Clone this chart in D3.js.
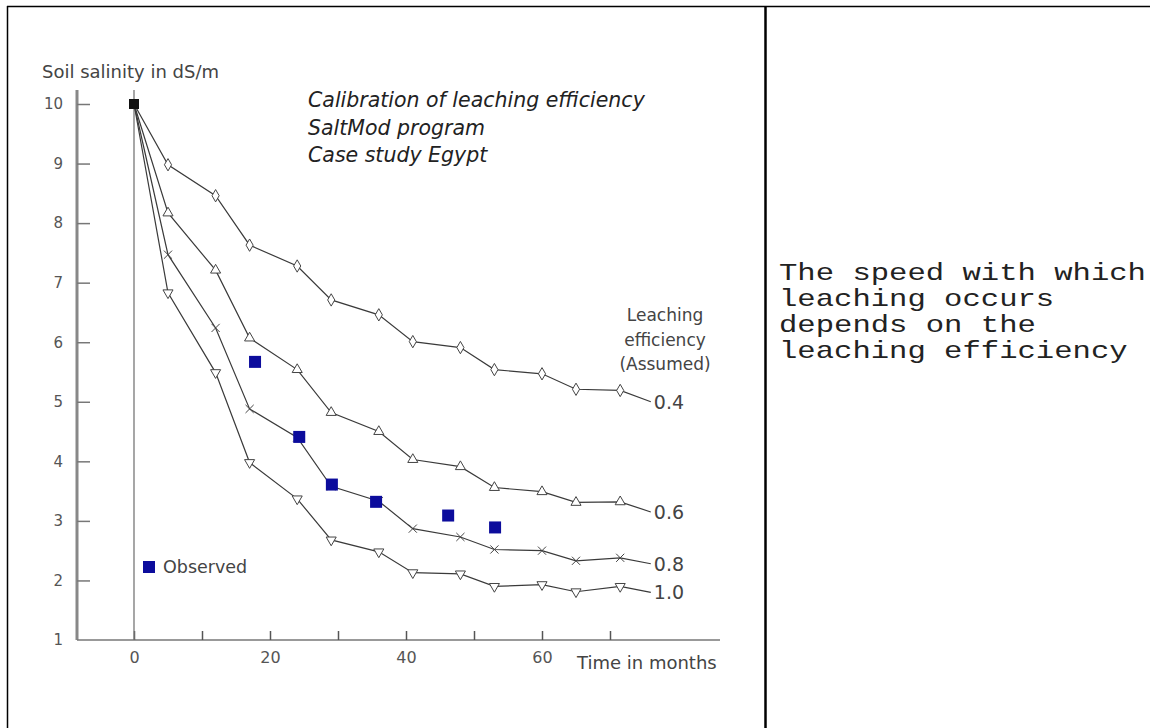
<!DOCTYPE html>
<meta charset="utf-8">
<style>
    body { margin: 0; background: #fff; }
    svg text { font-family: "DejaVu Sans", Verdana, sans-serif; fill: #333; }
    .note { font-family: "Liberation Mono", "Courier New", monospace !important; fill: #222 !important; }
</style>

<body>
    <script src="https://cdn.jsdelivr.net/npm/d3@7"></script>
    <script>
        // time in months for every simulated point
        var months = [0, 5, 12, 17, 24, 29, 36, 41, 48, 53, 60, 65, 71.5]
        // simulated soil salinity (dS/m) for each assumed leaching efficiency
        var le04 = [10, 8.98, 8.46, 7.63, 7.28, 6.71, 6.46, 6.01, 5.91, 5.54, 5.47, 5.21, 5.19]
        var le06 = [10, 8.17, 7.21, 6.07, 5.54, 4.82, 4.50, 4.03, 3.91, 3.56, 3.49, 3.31, 3.32]
        var le08 = [10, 7.47, 6.24, 4.88, 4.40, 3.58, 3.33, 2.87, 2.73, 2.52, 2.50, 2.33, 2.38]
        var le10 = [10, 6.83, 5.49, 3.98, 3.37, 2.68, 2.48, 2.13, 2.11, 1.90, 1.93, 1.81, 1.90]
        var seriesNames = ["0.4", "0.6", "0.8", "1.0"]
        // where the leader line of each curve meets its label
        var labelMonth = 76
        var labelValues = [5.0, 3.15, 2.28, 1.80]

        // observed salinity
        var obsMonths = [17.8, 24.3, 29.1, 35.6, 46.2, 53.1]
        var obsValues = [5.67, 4.41, 3.61, 3.32, 3.09, 2.89]

        var yTicks = [1, 2, 3, 4, 5, 6, 7, 8, 9, 10]
        var xTickMarks = [0, 10, 20, 30, 40, 50, 60, 70]
        var xTickLabels = [0, 20, 40, 60]
        var titleLines = ["Calibration of leaching efficiency", "SaltMod program", "Case study Egypt"]
        var noteLines = ["The speed with which", "leaching occurs", "depends on the", "leaching efficiency"]

        var width = 1150,
            height = 728

        var svg = d3.select("body").append("svg")
            .attr("width", width)
            .attr("height", height)

        // table frame
        svg.append("line").attr("x1", 7).attr("x2", width).attr("y1", 6.5).attr("y2", 6.5)
            .attr("stroke", "#000").attr("stroke-width", 1.5)
        svg.append("line").attr("x1", 7.5).attr("x2", 7.5).attr("y1", 6).attr("y2", height)
            .attr("stroke", "#000").attr("stroke-width", 1.5)
        svg.append("line").attr("x1", 765.5).attr("x2", 765.5).attr("y1", 6).attr("y2", height)
            .attr("stroke", "#000").attr("stroke-width", 2.5)

        var x = d3.scaleLinear().domain([0, 60]).range([134, 542])
        var y = d3.scaleLinear().domain([1, 10]).range([640, 104])

        var axisX = 77

        // y axis
        svg.append("line").attr("x1", axisX).attr("x2", axisX).attr("y1", 90).attr("y2", y(1))
            .attr("stroke", "#888").attr("stroke-width", 3)
        var yMarks = svg.append("g")
            .attr("transform", "translate(" + axisX + ",0)")
            .call(d3.axisRight(y).tickValues(yTicks.slice(1)).tickSize(13).tickFormat(""))
        yMarks.select(".domain").remove()
        yMarks.selectAll("line").attr("stroke", "#777").attr("stroke-width", 1.5)

        var yLabels = svg.append("g")
            .attr("transform", "translate(" + axisX + ",0)")
            .call(d3.axisLeft(y).tickValues(yTicks).tickSize(0).tickPadding(14))
        yLabels.select(".domain").remove()
        yLabels.selectAll("text").style("font-size", "15px").style("fill", "#555")

        // x axis
        svg.append("line").attr("x1", axisX).attr("x2", 720).attr("y1", y(1)).attr("y2", y(1))
            .attr("stroke", "#777").attr("stroke-width", 1.5)
        var xMarks = svg.append("g")
            .attr("transform", "translate(0," + y(1) + ")")
            .call(d3.axisTop(x).tickValues(xTickMarks).tickSize(9).tickFormat(""))
        xMarks.select(".domain").remove()
        xMarks.selectAll("line").attr("stroke", "#555").attr("stroke-width", 1.5)

        var xLabels = svg.append("g")
            .attr("transform", "translate(0," + y(1) + ")")
            .call(d3.axisBottom(x).tickValues(xTickLabels).tickSize(0).tickPadding(12))
        xLabels.select(".domain").remove()
        xLabels.selectAll("text").style("font-size", "16px").style("fill", "#555")

        // line at time zero
        svg.append("line").attr("x1", x(0)).attr("x2", x(0)).attr("y1", 90).attr("y2", y(1))
            .attr("stroke", "#777").attr("stroke-width", 1.3)

        svg.append("text").attr("x", 42).attr("y", 78).style("font-size", "18px").style("fill", "#444")
            .text("Soil salinity in dS/m")
        svg.append("text").attr("x", 577).attr("y", 669).style("font-size", "18px").style("fill", "#444")
            .text("Time in months")

        svg.append("g").selectAll("text")
            .data(titleLines)
            .enter().append("text")
            .attr("x", 308)
            .attr("y", function (d, i) { return 107 + i * 27.5 })
            .style("font-size", "20.5px")
            .style("font-style", "italic")
            .style("fill", "#222")
            .text(function (d) { return d })

        svg.append("g").selectAll("text")
            .data(["Leaching", "efficiency", "(Assumed)"])
            .enter().append("text")
            .attr("x", 665)
            .attr("y", function (d, i) { return 321 + i * 24.5 })
            .attr("text-anchor", "middle")
            .style("font-size", "17px")
            .style("fill", "#444")
            .text(function (d) { return d })

        // simulated curves
        var allSeries = [le04, le06, le08, le10]
        var symbols = [d3.symbolDiamond, d3.symbolTriangle, d3.symbolX, d3.symbolTriangle]
        var rotate = [0, 0, 0, 180]

        var line = d3.line()
            .x(function (d) { return x(d[0]) })
            .y(function (d) { return y(d[1]) })

        allSeries.forEach(function (vals, s) {
            var pts = months.map(function (m, i) { return [m, vals[i]] })
            svg.append("path")
                .datum(pts.concat([[labelMonth, labelValues[s]]]))
                .attr("fill", "none")
                .attr("stroke", "#3a3a3a")
                .attr("stroke-width", 1.2)
                .attr("d", line)

            svg.append("g").selectAll("path")
                .data(pts.slice(1))
                .enter().append("path")
                .attr("transform", function (d) {
                    return "translate(" + x(d[0]) + "," + y(d[1]) + ") rotate(" + rotate[s] + ")"
                })
                .attr("d", d3.symbol().type(symbols[s]).size(s == 2 ? 45 : 44))
                .attr("fill", s == 2 ? "none" : "#fff")
                .attr("stroke", "#444")
                .attr("stroke-width", 1)

            svg.append("text")
                .attr("x", x(labelMonth) + 3)
                .attr("y", y(labelValues[s]))
                .attr("dy", "0.36em")
                .style("font-size", "19px")
                .style("fill", "#444")
                .text(seriesNames[s])
        })

        // common starting point
        svg.append("rect")
            .attr("x", x(months[0]) - 5).attr("y", y(le04[0]) - 5)
            .attr("width", 10).attr("height", 10)
            .attr("fill", "#111")

        // observed values
        svg.append("g").selectAll("rect")
            .data(obsMonths)
            .enter().append("rect")
            .attr("x", function (d) { return x(d) - 6 })
            .attr("y", function (d, i) { return y(obsValues[i]) - 6 })
            .attr("width", 12)
            .attr("height", 12)
            .attr("fill", "#0c0c9c")

        svg.append("rect").attr("x", 143).attr("y", 561).attr("width", 12).attr("height", 12)
            .attr("fill", "#0c0c9c")
        svg.append("text").attr("x", 163).attr("y", 573).style("font-size", "17.5px").style("fill", "#444")
            .text("Observed")

        // note in the right cell
        var note = svg.append("g").attr("transform", "translate(779,0) scale(1.33,1)")
        note.selectAll("text")
            .data(noteLines)
            .enter().append("text")
            .attr("class", "note")
            .attr("x", 0)
            .attr("y", function (d, i) { return 280 + i * 26 })
            .style("font-size", "23px")
            .text(function (d) { return d })
    </script>
</body>
